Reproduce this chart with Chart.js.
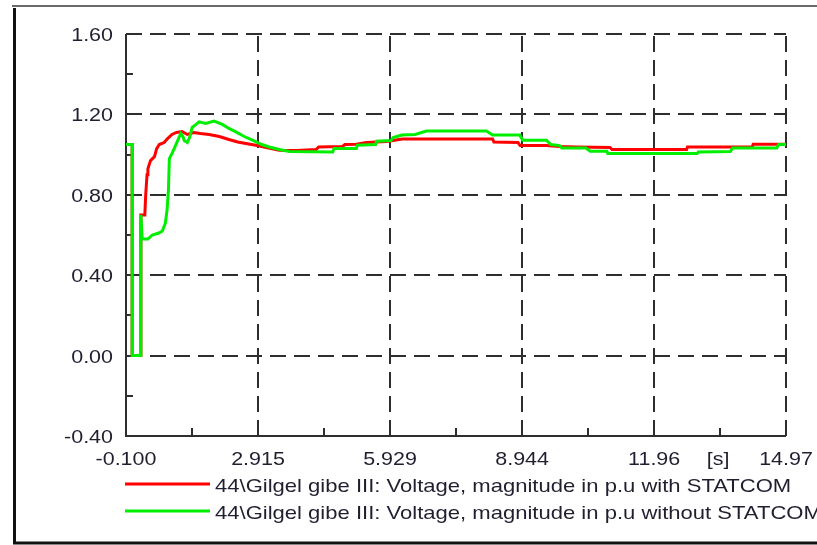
<!DOCTYPE html>
<html>
<head>
<meta charset="utf-8">
<script src="https://cdn.jsdelivr.net/npm/chart.js@4/dist/chart.umd.min.js"></script>
<style>
  html, body { margin: 0; padding: 0; background: #fff; }
  #wrap { position: relative; width: 817px; height: 545px; }
  canvas { display: block; }
</style>
</head>
<body>
<div id="wrap"><canvas id="c" width="817" height="545"></canvas></div>
<script>
// Bus voltage at 44\Gilgel gibe III after a fault, with and without STATCOM
const seriesNames = [
  "44\\Gilgel gibe III: Voltage, magnitude in p.u with STATCOM",
  "44\\Gilgel gibe III: Voltage, magnitude in p.u without STATCOM"
];

// time [s] / voltage [p.u.] with STATCOM
const withTime = [-0.1, 0.04, 0.04, 0.24, 0.24, 0.33, 0.35, 0.38, 0.40, 0.46, 0.55, 0.60, 0.66, 0.77, 0.85, 0.95,
  1.05, 1.18, 1.30, 1.45, 1.60, 1.80, 2.03, 2.25, 2.45, 2.70, 2.90, 3.10, 3.40, 3.80, 4.24, 4.30, 4.84, 4.90,
  5.16, 5.39, 5.85, 6.21, 8.27, 8.30, 8.85, 8.90, 9.50, 9.80, 10.19, 10.95, 11.00, 12.70, 12.72, 14.20, 14.22, 14.97];
const withVolt = [1.05, 1.05, 0.0, 0.0, 0.70, 0.70, 0.80, 0.90, 0.93, 0.97, 0.99, 1.03, 1.05, 1.06, 1.08, 1.10,
  1.11, 1.115, 1.10, 1.11, 1.105, 1.10, 1.09, 1.075, 1.063, 1.053, 1.045, 1.035, 1.022, 1.02, 1.025, 1.038, 1.04, 1.05,
  1.052, 1.06, 1.065, 1.077, 1.077, 1.063, 1.06, 1.045, 1.045, 1.04, 1.038, 1.035, 1.025, 1.025, 1.038, 1.038, 1.052, 1.052];

// time [s] / voltage [p.u.] without STATCOM
const withoutTime = [-0.1, 0.04, 0.04, 0.24, 0.24, 0.27, 0.40, 0.50, 0.65, 0.73, 0.80, 0.84, 0.87, 0.89, 0.96, 1.02,
  1.07, 1.15, 1.20, 1.23, 1.30, 1.36, 1.41, 1.50, 1.57, 1.72, 1.91, 2.10, 2.25, 2.41, 2.60, 2.79, 3.00, 3.17, 3.40,
  3.63, 4.62, 4.65, 5.16, 5.18, 5.60, 5.62, 5.95, 6.00, 6.20, 6.50, 6.76, 8.13, 8.27, 8.89, 8.96, 9.50, 9.60, 9.80,
  9.85, 10.40, 10.50, 10.88, 10.90, 12.94, 12.97, 13.70, 13.75, 14.76, 14.80, 14.97];
const withoutVolt = [1.05, 1.05, 0.0, 0.0, 0.70, 0.58, 0.58, 0.60, 0.61, 0.62, 0.66, 0.73, 0.83, 0.98, 1.01, 1.04,
  1.065, 1.105, 1.09, 1.07, 1.06, 1.09, 1.135, 1.15, 1.163, 1.155, 1.167, 1.15, 1.13, 1.113, 1.09, 1.072, 1.05, 1.038, 1.025,
  1.015, 1.013, 1.03, 1.03, 1.047, 1.05, 1.067, 1.07, 1.085, 1.097, 1.10, 1.117, 1.117, 1.097, 1.097, 1.072, 1.072, 1.05, 1.045,
  1.033, 1.033, 1.017, 1.017, 1.005, 1.005, 1.013, 1.015, 1.033, 1.033, 1.05, 1.05];

// axis ticks
const xTickValues = [-0.1, 2.915, 5.929, 8.944, 11.96, 14.97];
const xTickLabels = ["-0.100", "2.915", "5.929", "8.944", "11.96", "14.97"];
const xMinorValues = [1.407, 4.422, 7.436, 10.452, 13.465];
const yTickValues = [-0.4, 0.0, 0.4, 0.8, 1.2, 1.6];
const yTickLabels = ["-0.40", "0.00", "0.40", "0.80", "1.20", "1.60"];
const yMinorValues = [-0.2, 0.2, 0.6, 1.0, 1.4];
const xUnit = "[s]";

const FONT = "19px 'Liberation Sans', Arial, sans-serif";
const TICK_STRETCH = 1.13;
const LEGEND_STRETCH = 1.16;
const TEXT = "#221e30";
const GRID = "#2e2e2e";
const RED = "#ff0000";
const GREEN = "#00ee00";

const toPoints = (xs, ys) => xs.map((x, i) => ({ x: x, y: ys[i] }));

// text with the slightly wide glyph proportions of the plot export
function wideText(ctx, str, x, y, align, stretch) {
  ctx.save();
  ctx.translate(x, y);
  ctx.scale(stretch, 1);
  ctx.font = FONT;
  ctx.fillStyle = TEXT;
  ctx.textAlign = align;
  ctx.textBaseline = "alphabetic";
  ctx.fillText(str, 0, 0);
  ctx.restore();
}

// dashed grid, axis lines, inner minor ticks, labels and legend
const gridPlugin = {
  id: "dashGrid",
  beforeDatasetsDraw(chart) {
    const { ctx, chartArea: a, scales: { x, y } } = chart;
    ctx.save();
    ctx.strokeStyle = GRID;
    ctx.lineWidth = 2;
    ctx.setLineDash([16, 8]);
    yTickValues.slice(1).forEach(v => {
      const py = Math.round(y.getPixelForValue(v));
      ctx.beginPath(); ctx.moveTo(a.left, py); ctx.lineTo(a.right, py); ctx.stroke();
    });
    xTickValues.slice(1).forEach(v => {
      const px = Math.round(x.getPixelForValue(v));
      ctx.beginPath(); ctx.moveTo(px, a.bottom); ctx.lineTo(px, a.top); ctx.stroke();
    });
    ctx.setLineDash([]);
    yMinorValues.forEach(v => {
      const py = Math.round(y.getPixelForValue(v));
      ctx.beginPath(); ctx.moveTo(a.left, py); ctx.lineTo(a.left + 7, py); ctx.stroke();
    });
    xMinorValues.forEach(v => {
      const px = Math.round(x.getPixelForValue(v));
      ctx.beginPath(); ctx.moveTo(px, a.bottom); ctx.lineTo(px, a.bottom - 8); ctx.stroke();
    });
    ctx.beginPath();
    ctx.moveTo(a.left, a.top); ctx.lineTo(a.left, a.bottom); ctx.lineTo(a.right, a.bottom);
    ctx.stroke();
    ctx.restore();
  },
  afterDraw(chart) {
    const { ctx, chartArea: a, scales: { x, y } } = chart;
    ctx.save();
    // outer frame
    ctx.strokeStyle = "#6a6a6a"; ctx.lineWidth = 2;
    ctx.beginPath(); ctx.moveTo(12, 6); ctx.lineTo(817, 6); ctx.stroke();
    ctx.strokeStyle = "#111"; ctx.lineWidth = 3;
    ctx.beginPath(); ctx.moveTo(14.5, 8); ctx.lineTo(14.5, 543); ctx.lineTo(817, 543); ctx.stroke();
    ctx.restore();

    // tick labels
    yTickValues.forEach((v, i) => {
      wideText(ctx, yTickLabels[i], a.left - 13, y.getPixelForValue(v) + 7, "right", TICK_STRETCH);
    });
    xTickValues.forEach((v, i) => {
      wideText(ctx, xTickLabels[i], x.getPixelForValue(v), a.bottom + 29, "center", TICK_STRETCH);
    });
    wideText(ctx, xUnit, x.getPixelForValue(xMinorValues[4]) - 2, a.bottom + 29, "center", TICK_STRETCH);

    // legend
    const colors = [RED, GREEN];
    const rows = [484, 511];
    seriesNames.forEach((name, i) => {
      ctx.save();
      ctx.strokeStyle = colors[i]; ctx.lineWidth = 3;
      ctx.beginPath(); ctx.moveTo(125, rows[i]); ctx.lineTo(210, rows[i]); ctx.stroke();
      ctx.restore();
      wideText(ctx, name, 215, rows[i] + 8, "left", LEGEND_STRETCH);
    });
  }
};

new Chart(document.getElementById("c"), {
  type: "line",
  data: {
    datasets: [
      { label: seriesNames[0], data: toPoints(withTime, withVolt), borderColor: RED, borderWidth: 3, order: 1 },
      { label: seriesNames[1], data: toPoints(withoutTime, withoutVolt), borderColor: GREEN, borderWidth: 3, order: 0 }
    ]
  },
  options: {
    responsive: false,
    animation: false,
    events: [],
    layout: { padding: { left: 0, right: 31, top: 34, bottom: 0 } },
    elements: { point: { radius: 0 }, line: { tension: 0, fill: false } },
    plugins: { legend: { display: false }, tooltip: { enabled: false } },
    scales: {
      x: {
        type: "linear", min: -0.1, max: 14.97,
        afterBuildTicks: s => { s.ticks = xTickValues.map(v => ({ value: v })); },
        afterFit: s => { s.height = 109; },
        ticks: { display: false },
        grid: { display: false, drawTicks: false },
        border: { display: false }
      },
      y: {
        type: "linear", min: -0.4, max: 1.6,
        afterBuildTicks: s => { s.ticks = yTickValues.map(v => ({ value: v })); },
        afterFit: s => { s.width = 126; },
        ticks: { display: false },
        grid: { display: false, drawTicks: false },
        border: { display: false }
      }
    }
  },
  plugins: [gridPlugin]
});
</script>
</body>
</html>
